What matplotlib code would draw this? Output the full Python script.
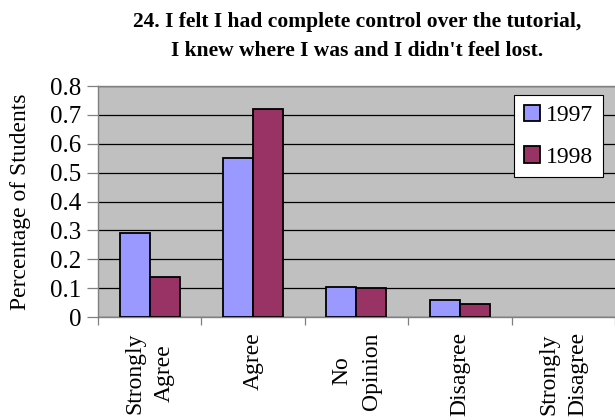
import numpy as np
import matplotlib.pyplot as plt

# data
categories = ["Strongly\nAgree", "Agree", "No\nOpinion", "Disagree", "Strongly\nDisagree"]
years = ["1997", "1998"]
pct_1997 = [0.292, 0.55, 0.105, 0.059, 0.0]
pct_1998 = [0.14, 0.721, 0.099, 0.044, 0.0]
colors = ["#9999FF", "#993366"]

plt.rcParams["font.family"] = ["Liberation Serif", "DejaVu Serif"]

fig = plt.figure(figsize=(6.15, 4.2), dpi=100)
ax = fig.add_axes([0.1593, 0.2452, 0.8407, 0.5500])
ax.set_facecolor("#C0C0C0")

x = np.arange(len(categories))
w = 0.29
# no outline for empty bars
lw97 = [1.3 if v > 0 else 0 for v in pct_1997]
lw98 = [1.3 if v > 0 else 0 for v in pct_1998]
ax.bar(x - w / 2, pct_1997, w, color=colors[0], edgecolor="black", linewidth=lw97,
       label=years[0], zorder=3)
ax.bar(x + w / 2, pct_1998, w, color=colors[1], edgecolor="black", linewidth=lw98,
       label=years[1], zorder=3)

ax.set_ylim(0, 0.8)
ax.set_yticks(np.arange(0, 0.81, 0.1))
ax.set_yticklabels(["0"] + [f"{v:.1f}" for v in np.arange(0.1, 0.81, 0.1)], fontsize=18)
ax.yaxis.grid(True, color="black", linewidth=0.9, zorder=1)
ax.set_axisbelow(True)
ax.tick_params(axis="y", length=8, width=0.9, color="#808080", pad=4)

ax.set_xlim(-0.5, 4.47)
ax.set_xticks(np.arange(-0.5, 4.6, 1.0))
ax.set_xticklabels([])
ax.set_xticks(x, minor=True)
ax.set_xticklabels(categories, minor=True, rotation=90, fontsize=17,
                   va="top", ha="center", multialignment="center", linespacing=1.55)
ax.tick_params(axis="x", which="major", length=6, width=0.9, color="#808080")
ax.tick_params(axis="x", which="minor", length=0, pad=11)

for side in ["left", "bottom", "top"]:
    ax.spines[side].set_color("#808080")
    ax.spines[side].set_linewidth(1.0)
ax.spines["right"].set_visible(False)

ax.set_ylabel("Percentage of Students", fontsize=17, labelpad=14)

fig.text(0.58, 0.972, "24. I felt I had complete control over the tutorial,\n"
         "I knew where I was and I didn't feel lost.",
         ha="center", va="top", fontsize=15.5, fontweight="bold", linespacing=1.6)

leg = ax.legend(loc="upper right", bbox_to_anchor=(0.976, 0.96), fontsize=17,
                frameon=True, fancybox=False, edgecolor="black", framealpha=1,
                handlelength=0.7, handleheight=0.7, handletextpad=0.25,
                labelspacing=0.85, borderpad=0.4, borderaxespad=0)
leg.get_frame().set_linewidth(0.8)
for h in leg.legend_handles:
    h.set_linewidth(1.3)

plt.savefig("out.png", dpi=100)
